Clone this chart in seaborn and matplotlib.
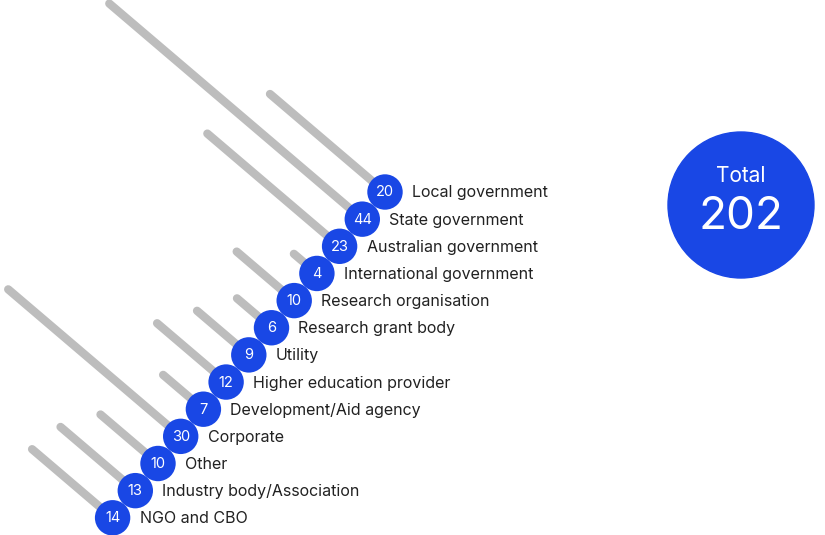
import matplotlib
matplotlib.use("Agg")
import matplotlib.pyplot as plt
import seaborn as sns
import pandas as pd
import numpy as np

categories = ["Local government", "State government", "Australian government",
              "International government", "Research organisation", "Research grant body",
              "Utility", "Higher education provider", "Development/Aid agency",
              "Corporate", "Other", "Industry body/Association", "NGO and CBO"]
values = [20, 44, 23, 4, 10, 6, 9, 12, 7, 30, 10, 13, 14]
total = 202

sns.set_theme(style="white")
plt.rcParams["font.family"] = "Inter"
blue = "#1947e5"
grey = "#bdbdbd"

fig = plt.figure(figsize=(8.25, 5.35), dpi=100)
ax = fig.add_axes([0, 0, 1, 1])

n = len(categories)
idx = np.arange(n)
x0 = 385 - idx * 22.7
y0 = 192 + idx * 27.15
df = pd.DataFrame({"label": categories, "val": values, "x": x0, "y": y0})
df["x1"] = df["x"] - df["val"] * 5.75
df["y1"] = df["y"] - df["val"] * 4.9

for _, r in df.iterrows():
    ax.plot([r["x"], r["x1"]], [r["y"], r["y1"]], color=grey, lw=6, solid_capstyle="round", zorder=1)

sns.scatterplot(data=df, x="x", y="y", s=650, color=blue, edgecolor="none", ax=ax, zorder=3, legend=False)
ax.set_xlim(0, 825); ax.set_ylim(535, 0); ax.axis("off")

for _, r in df.iterrows():
    ax.text(r["x"], r["y"] + 0.5, str(r["val"]), color="white", ha="center", va="center", fontsize=10.5, zorder=4)
    ax.text(r["x"] + 27, r["y"] + 1, r["label"], color="#222222", ha="left", va="center", fontsize=11.5, zorder=4)

ax.add_patch(plt.Circle((741, 205), 73, color=blue, zorder=3))
ax.text(741, 176, "Total", color="white", ha="center", va="center", fontsize=15, zorder=4)
ax.text(741, 217, str(total), color="white", ha="center", va="center", fontsize=33, zorder=4)

fig.savefig("out.png", dpi=100)
